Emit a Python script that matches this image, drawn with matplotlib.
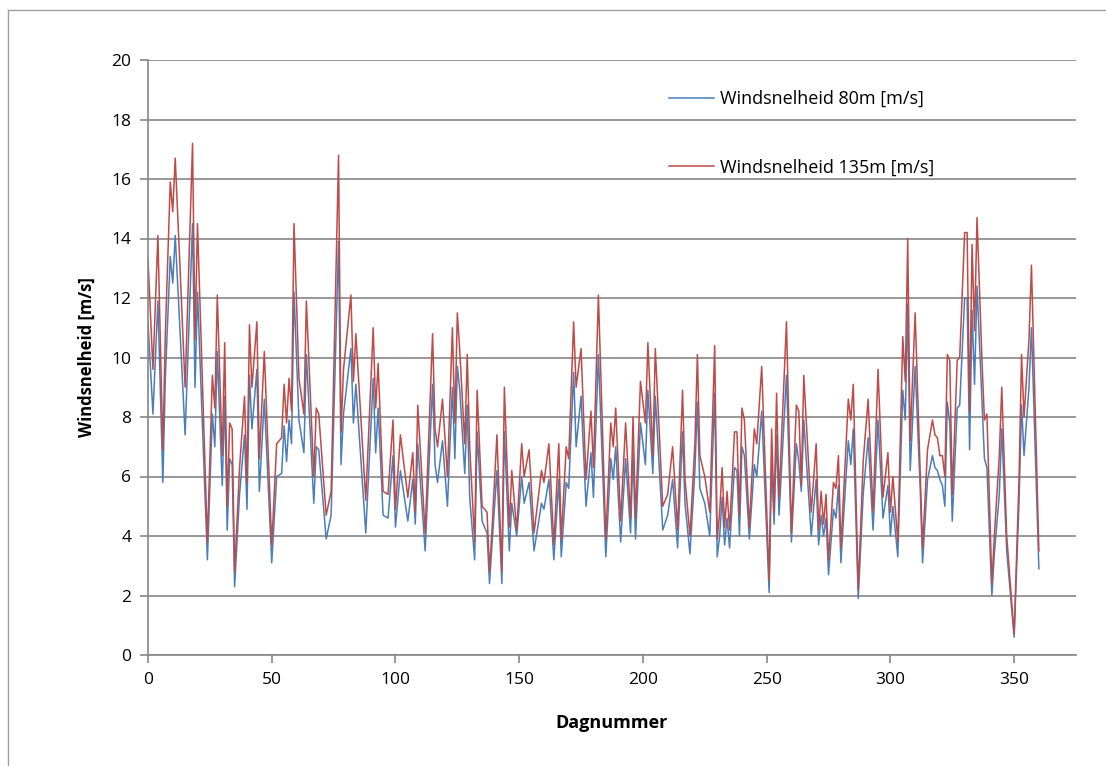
import matplotlib.pyplot as plt
import numpy as np

dag = [0, 2, 4, 6, 7, 9, 10, 11, 13, 15, 18, 19, 20, 24, 26, 27, 28, 30, 31, 32,
       33, 34, 35, 37, 39, 40, 41, 42, 44, 45, 47, 50, 52, 54, 55, 56, 57, 58, 59, 61,
       63, 64, 67, 68, 69, 72, 74, 77, 78, 79, 82, 83, 84, 88, 91, 92, 93, 95, 97, 99,
       100, 102, 105, 107, 108, 109, 112, 115, 116, 117, 119, 121, 123, 124, 125, 126, 128, 129, 130, 132,
       133, 135, 137, 138, 139, 141, 143, 144, 146, 147, 149, 151, 152, 154, 156, 159, 160, 162, 164, 166,
       167, 169, 170, 172, 173, 175, 177, 179, 180, 182, 185, 187, 188, 189, 191, 193, 195, 196, 197, 199,
       201, 202, 204, 205, 208, 210, 212, 214, 216, 217, 219, 221, 222, 223, 225, 227, 229, 230, 231, 232,
       233, 234, 235, 237, 238, 239, 240, 241, 243, 245, 246, 248, 251, 252, 253, 254, 255, 258, 260, 262,
       263, 264, 265, 268, 270, 271, 272, 273, 274, 275, 277, 278, 279, 280, 282, 283, 284, 285, 287, 289,
       291, 293, 295, 297, 299, 300, 301, 303, 305, 306, 307, 308, 310, 312, 313, 315, 317, 318, 319, 320,
       321, 322, 323, 324, 325, 327, 328, 330, 331, 332, 333, 334, 335, 337, 338, 339, 341, 342, 344, 345,
       347, 350, 352, 353, 354, 356, 357, 360]

ws135 = [13.3, 9.6, 14.1, 6.9, 10.8, 15.9, 14.9, 16.7, 12.9, 9.0, 17.2, 10.6, 14.5, 3.8, 9.4, 8.3, 12.1, 6.7, 10.5, 5.0,
         7.8, 7.6, 2.8, 6.3, 8.7, 5.8, 11.1, 9.0, 11.2, 6.6, 10.2, 3.7, 7.1, 7.3, 9.1, 7.8, 9.3, 8.2, 14.5, 9.3,
         8.1, 11.9, 6.0, 8.3, 8.1, 4.7, 5.5, 16.8, 7.5, 9.6, 12.1, 9.2, 10.8, 5.2, 11.0, 8.3, 9.8, 5.5, 5.4, 7.9,
         4.9, 7.4, 5.3, 6.8, 4.8, 8.4, 4.1, 10.8, 7.6, 7.0, 8.6, 6.0, 11.0, 7.8, 11.5, 10.2, 7.1, 10.1, 7.0, 3.8,
         8.9, 5.0, 4.8, 2.8, 4.2, 7.4, 2.8, 9.0, 4.3, 6.2, 4.2, 7.1, 6.0, 6.9, 4.1, 6.2, 5.8, 7.1, 3.7, 7.1,
         3.9, 7.0, 6.6, 11.2, 9.0, 10.3, 5.9, 8.2, 6.3, 12.1, 3.9, 7.8, 7.0, 8.3, 4.5, 7.8, 4.6, 8.0, 4.6, 9.2,
         7.8, 10.5, 6.7, 10.3, 5.0, 5.4, 7.0, 4.2, 8.9, 5.9, 4.0, 7.1, 10.1, 6.7, 6.0, 4.8, 10.4, 3.9, 4.8, 6.3,
         4.3, 5.5, 4.2, 7.5, 7.5, 4.7, 8.3, 7.9, 4.3, 7.6, 7.1, 9.7, 2.5, 7.6, 4.8, 8.8, 5.3, 11.2, 4.1, 8.4,
         8.2, 5.7, 9.4, 4.8, 7.1, 4.2, 5.5, 4.4, 5.4, 3.2, 5.8, 5.6, 6.7, 3.6, 6.9, 8.6, 7.9, 9.1, 2.2, 6.5,
         8.6, 4.8, 9.6, 5.3, 6.8, 4.8, 6.0, 3.8, 10.7, 9.2, 14.0, 7.2, 11.5, 6.3, 3.6, 6.9, 7.9, 7.4, 7.3, 6.7,
         6.7, 6.0, 10.1, 9.9, 5.4, 9.9, 10.0, 14.2, 14.2, 8.2, 13.8, 10.9, 14.7, 9.9, 7.9, 8.1, 2.4, 4.0, 6.7, 9.0,
         4.0, 0.7, 6.0, 10.1, 8.0, 10.6, 13.1, 3.5]

ws80 = [11.2, 8.1, 11.9, 5.8, 9.3, 13.4, 12.5, 14.1, 10.8, 7.4, 14.5, 9.0, 12.2, 3.2, 8.1, 7.0, 10.2, 5.7, 8.7, 4.2,
        6.6, 6.4, 2.3, 5.4, 7.4, 4.9, 9.4, 7.6, 9.6, 5.5, 8.6, 3.1, 6.0, 6.1, 7.7, 6.5, 7.9, 7.1, 12.2, 7.9,
        6.8, 10.1, 5.1, 7.0, 6.9, 3.9, 4.7, 13.9, 6.4, 8.1, 10.3, 7.8, 9.1, 4.1, 9.3, 6.8, 8.3, 4.7, 4.6, 6.7,
        4.3, 6.2, 4.5, 5.9, 4.4, 7.1, 3.5, 9.1, 6.4, 5.8, 7.2, 5.0, 9.0, 6.6, 9.7, 8.9, 6.1, 8.4, 5.3, 3.2,
        7.5, 4.5, 4.1, 2.4, 3.7, 6.2, 2.4, 7.5, 3.5, 5.1, 4.0, 6.0, 5.1, 5.8, 3.5, 5.1, 4.9, 5.9, 3.2, 5.9,
        3.3, 5.8, 5.6, 9.5, 7.0, 8.7, 5.0, 6.8, 5.3, 10.1, 3.3, 6.6, 5.9, 7.0, 3.8, 6.6, 4.1, 6.8, 3.9, 7.8,
        6.4, 8.9, 6.1, 8.7, 4.2, 4.7, 5.9, 3.6, 7.5, 5.1, 3.4, 6.2, 8.5, 5.6, 5.1, 4.0, 8.8, 3.3, 4.0, 5.3,
        3.7, 4.6, 3.6, 6.3, 6.2, 4.0, 7.0, 6.7, 3.9, 6.4, 6.0, 8.2, 2.1, 6.4, 4.4, 7.4, 4.7, 9.4, 3.8, 7.1,
        6.5, 5.5, 7.9, 4.0, 5.9, 3.7, 4.7, 4.0, 4.6, 2.7, 4.9, 4.6, 5.7, 3.1, 5.9, 7.2, 6.4, 7.6, 1.9, 5.4,
        7.3, 4.2, 7.9, 4.6, 5.7, 4.0, 5.0, 3.3, 8.9, 7.9, 11.8, 6.2, 9.7, 5.7, 3.1, 5.9, 6.7, 6.3, 6.2, 5.9,
        5.7, 5.0, 8.5, 7.8, 4.5, 8.3, 8.4, 12.0, 12.0, 6.9, 11.6, 9.1, 12.4, 8.5, 6.6, 6.3, 2.0, 3.4, 5.4, 7.6,
        3.5, 0.6, 5.2, 8.4, 6.7, 9.0, 11.0, 2.9]

plt.rcParams['font.family'] = ['Open Sans', 'DejaVu Sans']
grijs = '#868686'

fig = plt.figure(figsize=(11.06, 7.66), dpi=100)
ax = fig.add_axes([148 / 1106, 111 / 766, 928 / 1106, 595 / 766])

ax.plot(dag, ws80, color='#4A7EBB', lw=1.1, label='Windsnelheid 80m [m/s]')
ax.plot(dag, ws135, color='#BE4B48', lw=1.1, label='Windsnelheid 135m [m/s]')

ax.set_xlim(0, 375)
ax.set_ylim(0, 20)
ax.set_xticks(np.arange(0, 351, 50))
ax.set_yticks(np.arange(0, 21, 2))
ax.grid(axis='y', color=grijs, lw=1.2)
ax.set_axisbelow(True)
for s in ['top', 'right']:
    ax.spines[s].set_visible(False)
for s in ['left', 'bottom']:
    ax.spines[s].set_color(grijs)
    ax.spines[s].set_linewidth(1.2)
ax.tick_params(direction='out', length=6, width=1.2, color=grijs, labelsize=12.5, labelcolor='black', pad=6)

ax.set_xlabel('Dagnummer', fontsize=13, fontweight='bold', labelpad=19)
ax.set_ylabel('Windsnelheid [m/s]', fontsize=12, fontweight='bold', labelpad=11)

ax.legend(loc='upper left', bbox_to_anchor=(0.552, 0.965), frameon=False, fontsize=13,
          handlelength=2.5, handletextpad=0.3, labelspacing=2.8, borderpad=0)

# rand rond de grafiek
fig.add_artist(plt.Line2D([8 / 1106, 1], [1 - 10 / 766, 1 - 10 / 766], color='#A0A0A0', lw=1))
fig.add_artist(plt.Line2D([8 / 1106, 8 / 1106], [0, 1 - 10 / 766], color='#A0A0A0', lw=1))

fig.savefig('out.png', dpi=100)
